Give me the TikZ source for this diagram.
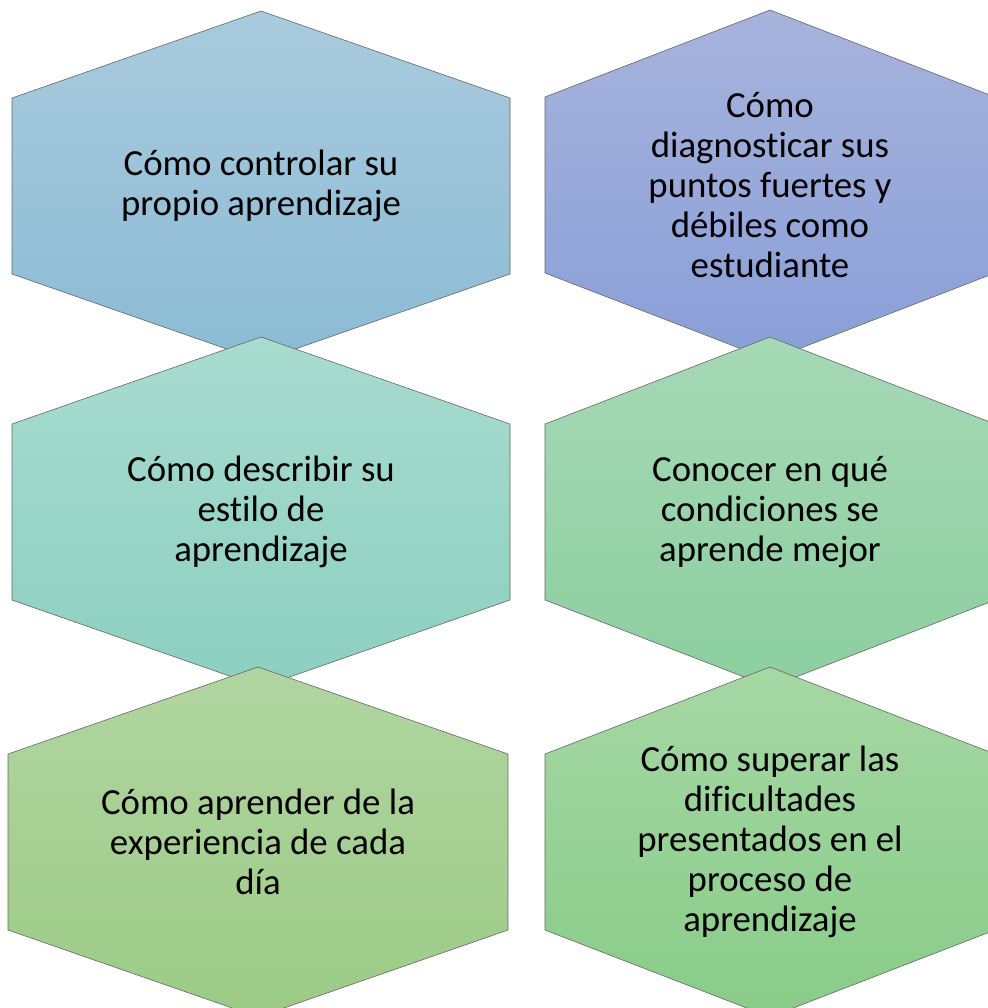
\documentclass[tikz,border=0pt]{standalone}
\usepackage{fontspec}
\setmainfont{Carlito}[Ligatures=NoCommon]
\usetikzlibrary{calc,backgrounds}

\definecolor{controlTop}{HTML}{A9CADD}
\definecolor{controlBot}{HTML}{8BBBD5}
\definecolor{diagTop}{HTML}{A6B3DC}
\definecolor{diagBot}{HTML}{8A9FD8}
\definecolor{estiloTop}{HTML}{A8DCCF}
\definecolor{estiloBot}{HTML}{8CCFC0}
\definecolor{condTop}{HTML}{A6D8B6}
\definecolor{condBot}{HTML}{8CCF9F}
\definecolor{diaTop}{HTML}{B1D5A1}
\definecolor{diaBot}{HTML}{9CCB86}
\definecolor{superarTop}{HTML}{A6D7A4}
\definecolor{superarBot}{HTML}{88CC88}

\tikzset{
  hextext/.style={align=center, text=black, font=\fontsize{18.4}{20}\selectfont},
  hexedge/.style={draw=gray!80!black, line width=0.3pt},
}

% hexagon behind a node: node, half width, top colour, bottom colour
\newcommand{\hexa}[4]{%
  \shade[hexedge, top color=#3, bottom color=#4]
    ($(#1)+(0,-175)$) -- ($(#1)+(#2,-88)$) -- ($(#1)+(#2,88)$) --
    ($(#1)+(0,175)$) -- ($(#1)+(-#2,88)$) -- ($(#1)+(-#2,-88)$) -- cycle;}

\begin{document}
\begin{tikzpicture}[x=0.5pt, y=-0.5pt]
    \clip (0,0) rectangle (987,1008);

    \node[hextext] (control) at (261,186) {Cómo controlar su\\propio aprendizaje};
    \node[hextext] (diag) at (770,185) {Cómo\\diagnosticar sus\\puntos fuertes y\\débiles como\\estudiante};
    \node[hextext] (estilo) at (261,512) {Cómo describir su\\estilo de\\aprendizaje};
    \node[hextext] (cond) at (770,512) {Conocer en qué\\condiciones se\\aprende mejor};
    \node[hextext] (dia) at (258,842) {Cómo aprender de la\\experiencia de cada\\día};
    \node[hextext] (superar) at (770,842) {Cómo superar las\\dificultades\\presentados en el\\proceso de\\aprendizaje};

    \begin{scope}[on background layer]
      \hexa{control}{249}{controlTop}{controlBot}
      \hexa{diag}{225}{diagTop}{diagBot}
      \hexa{estilo}{249}{estiloTop}{estiloBot}
      \hexa{cond}{225}{condTop}{condBot}
      \hexa{dia}{250}{diaTop}{diaBot}
      \hexa{superar}{225}{superarTop}{superarBot}
    \end{scope}
  \end{tikzpicture}
\end{document}
